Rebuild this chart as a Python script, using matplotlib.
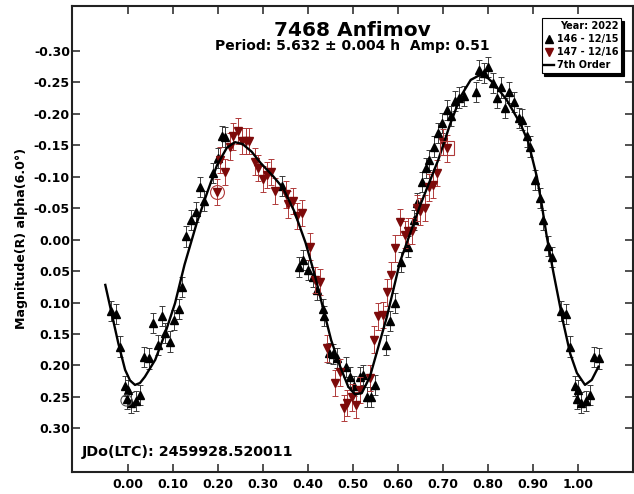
import matplotlib
matplotlib.use("Agg")
import matplotlib.pyplot as plt
from matplotlib.lines import Line2D
import numpy as np

# ---------------- data ----------------
black_phase = [0.963, 0.974, 0.983, 0.993, 0.999, 0.001, 0.008, 0.018, 0.028, 0.036,
               0.047, 0.057, 0.066, 0.075, 0.083, 0.094, 0.103, 0.113, 0.121, 0.130,
               0.141, 0.151, 0.160, 0.169, 0.190, 0.201, 0.209, 0.217, 0.342, 0.381,
               0.390, 0.401, 0.411, 0.420, 0.433, 0.437, 0.447, 0.456, 0.465, 0.484,
               0.494, 0.503, 0.515, 0.522, 0.532, 0.541, 0.550, 0.574, 0.583, 0.594,
               0.607, 0.622, 0.635, 0.643, 0.653, 0.663, 0.670, 0.680, 0.690, 0.699,
               0.709, 0.718, 0.727, 0.737, 0.746, 0.774, 0.781, 0.791, 0.801, 0.812,
               0.820, 0.829, 0.838, 0.848, 0.858, 0.870, 0.876, 0.887, 0.894, 0.905,
               0.915, 0.922, 0.933, 0.942]
black_mag = [0.113, 0.118, 0.170, 0.233, 0.254, 0.239, 0.259, 0.257, 0.247, 0.187,
             0.189, 0.133, 0.168, 0.121, 0.149, 0.162, 0.128, 0.110, 0.076, -0.005,
             -0.031, -0.044, -0.083, -0.062, -0.106, -0.130, -0.164, -0.163, -0.085, 0.043,
             0.032, 0.048, 0.059, 0.080, 0.110, 0.121, 0.180, 0.182, 0.188, 0.202,
             0.218, 0.233, 0.218, 0.215, 0.250, 0.250, 0.231, 0.168, 0.130, 0.101,
             0.035, 0.011, -0.031, -0.058, -0.092, -0.114, -0.127, -0.148, -0.169, -0.186,
             -0.206, -0.197, -0.220, -0.226, -0.228, -0.235, -0.270, -0.265, -0.275, -0.249,
             -0.225, -0.242, -0.210, -0.234, -0.219, -0.193, -0.191, -0.164, -0.148, -0.095,
             -0.066, -0.031, 0.010, 0.028]
black_err = 0.016

red_phase = [0.198, 0.205, 0.215, 0.226, 0.234, 0.244, 0.253, 0.262, 0.270, 0.283,
             0.290, 0.300, 0.309, 0.318, 0.327, 0.351, 0.357, 0.367, 0.377, 0.387,
             0.404, 0.416, 0.426, 0.442, 0.461, 0.472, 0.481, 0.488, 0.498, 0.508,
             0.516, 0.538, 0.547, 0.557, 0.567, 0.577, 0.584, 0.594, 0.604, 0.616,
             0.623, 0.632, 0.643, 0.649, 0.661, 0.670, 0.679, 0.688, 0.700, 0.709]
red_mag = [-0.076, -0.127, -0.108, -0.148, -0.164, -0.173, -0.157, -0.157, -0.157, -0.124,
           -0.114, -0.096, -0.103, -0.108, -0.077, -0.072, -0.056, -0.061, -0.038, -0.042,
           0.011, 0.064, 0.067, 0.173, 0.228, 0.211, 0.268, 0.260, 0.251, 0.263,
           0.239, 0.220, 0.159, 0.122, 0.120, 0.084, 0.056, 0.014, -0.028, -0.008,
           -0.014, -0.014, -0.050, -0.045, -0.050, -0.083, -0.087, -0.106, -0.155, -0.145]
red_err = 0.021

fit_phase = [-0.050, -0.036, -0.021, -0.006, 0.005, 0.016, 0.027, 0.038, 0.061, 0.083,
             0.105, 0.126, 0.153, 0.176, 0.198, 0.220, 0.238, 0.255, 0.275, 0.295,
             0.324, 0.345, 0.370, 0.395, 0.415, 0.435, 0.452, 0.472, 0.490, 0.505,
             0.520, 0.538, 0.557, 0.576, 0.590, 0.605, 0.620, 0.650, 0.690, 0.716,
             0.740, 0.762, 0.783, 0.800, 0.815, 0.842, 0.872, 0.890, 0.909, 0.920,
             0.931, 0.946, 0.968, 0.983, 0.998, 1.016, 1.031, 1.046]
fit_mag = [0.072, 0.117, 0.165, 0.207, 0.224, 0.231, 0.228, 0.218, 0.191, 0.149,
           0.101, 0.040, -0.026, -0.074, -0.118, -0.146, -0.155, -0.152, -0.140, -0.122,
           -0.100, -0.082, -0.045, 0.005, 0.055, 0.112, 0.160, 0.202, 0.234, 0.246,
           0.244, 0.218, 0.170, 0.122, 0.080, 0.035, 0.005, -0.055, -0.127, -0.183,
           -0.228, -0.254, -0.262, -0.257, -0.247, -0.222, -0.185, -0.155, -0.100, -0.055,
           -0.005, 0.053, 0.133, 0.181, 0.212, 0.231, 0.223, 0.202]

circle_black_phase = [-0.005]
circle_black_mag = [0.255]
circle_red_phase = [0.198]
circle_red_mag = [-0.076]
box_red_phase = [0.709]
box_red_mag = [-0.145]

x_ticks = [0.0, 0.1, 0.2, 0.3, 0.4, 0.5, 0.6, 0.7, 0.8, 0.9, 1.0]
y_ticks = [-0.30, -0.25, -0.20, -0.15, -0.10, -0.05, 0.0, 0.05, 0.10, 0.15, 0.20, 0.25, 0.30]

title = "7468 Anfimov"
subtitle = "Period: 5.632 \u00b1 0.004 h  Amp: 0.51"
jd_text = "JDo(LTC): 2459928.520011"
legend_title = "Year: 2022"
labels = ["146 - 12/15", "147 - 12/16", "7th Order"]

# ------------- wrap phases --------------
bp = np.array(black_phase)
bm = np.array(black_mag)
lo = bp >= 0.95
hi = bp <= 0.05
bx = np.concatenate([bp, bp[lo] - 1.0, bp[hi] + 1.0])
by = np.concatenate([bm, bm[lo], bm[hi]])

# ---------------- plot ----------------
plt.rcParams['font.family'] = ['DejaVu Sans']
plt.rcParams['font.weight'] = 'bold'

fig = plt.figure(figsize=(6.34, 4.94), dpi=100)
ax = fig.add_axes([72 / 634, 1 - 471.7 / 494, 560.7 / 634, 465.7 / 494])

black_col = "#000000"
black_err_col = "#3a3a3a"
red_col = "#7d0a0a"
red_err_col = "#b03a3a"

ax.errorbar(bx, by, yerr=black_err, fmt='none', ecolor=black_err_col,
            elinewidth=0.7, capsize=2.2, capthick=0.7, zorder=2)
ax.plot(bx, by, linestyle='none', marker='^', markersize=6.2, color=black_col, zorder=3)

ax.errorbar(red_phase, red_mag, yerr=red_err, fmt='none', ecolor=red_err_col,
            elinewidth=0.7, capsize=2.2, capthick=0.7, zorder=4)
ax.plot(red_phase, red_mag, linestyle='none', marker='v', markersize=6.2, color=red_col, zorder=5)

ax.plot(fit_phase, fit_mag, color='black', linewidth=1.7, zorder=6)

ax.plot(circle_black_phase, circle_black_mag, linestyle='none', marker='o', markersize=8,
        markerfacecolor='none', markeredgecolor='#555555', markeredgewidth=0.8, zorder=7)
ax.plot(circle_red_phase, circle_red_mag, linestyle='none', marker='o', markersize=10,
        markerfacecolor='none', markeredgecolor=red_err_col, markeredgewidth=0.8, zorder=7)
ax.plot(box_red_phase, box_red_mag, linestyle='none', marker='s', markersize=10,
        markerfacecolor='none', markeredgecolor=red_err_col, markeredgewidth=0.8, zorder=7)

ax.set_xlim(-0.124, 1.122)
ax.set_ylim(0.369, -0.3715)

ax.set_xticks(x_ticks)
ax.set_xticklabels([f"{v:.2f}" for v in x_ticks])
ax.set_yticks(y_ticks)
ax.set_yticklabels([f"{abs(v):.2f}" if abs(v) < 1e-9 else f"{v:.2f}" for v in y_ticks])

ax.tick_params(axis='both', direction='in', length=6, width=1.1, top=True, right=True,
               labelsize=9, color='#222222')
ax.tick_params(axis='y', pad=1.5)
ax.tick_params(axis='x', pad=4.5)
for lab in ax.get_xticklabels() + ax.get_yticklabels():
    lab.set_fontweight('bold')

for sp in ax.spines.values():
    sp.set_linewidth(1.5)
    sp.set_color('#222222')

ax.set_ylabel("Magnitude(R) alpha(6.0\u00b0)", fontsize=9.1, fontweight='bold', labelpad=4)

ax.text(0.5, 0.948, title, transform=ax.transAxes, ha='center', va='center',
        fontsize=14.5, fontweight='bold')
ax.text(0.5, 0.915, subtitle, transform=ax.transAxes, ha='center', va='center',
        fontsize=10, fontweight='bold')
ax.text(0.018, 0.042, jd_text, transform=ax.transAxes, ha='left', va='center',
        fontsize=10.3, fontweight='bold')

handles = [
    Line2D([], [], linestyle='none', marker='^', markersize=6, color=black_col),
    Line2D([], [], linestyle='none', marker='v', markersize=6, color=red_col),
    Line2D([], [], color='black', linewidth=1.7),
]
leg = ax.legend(handles, labels, title=legend_title, loc='upper right',
                bbox_to_anchor=(0.980, 0.9736), borderaxespad=0,
                prop={'size': 7, 'weight': 'bold'},
                title_fontproperties={'size': 7, 'weight': 'bold'},
                alignment='right', handlelength=1.0, handletextpad=0.3,
                borderpad=0.3, labelspacing=0.3, fancybox=False,
                shadow={'color': 'black', 'alpha': 1.0}, framealpha=1, edgecolor='black')
leg.get_frame().set_linewidth(0.8)
leg.set_zorder(10)

fig.savefig("out.png", dpi=100)
